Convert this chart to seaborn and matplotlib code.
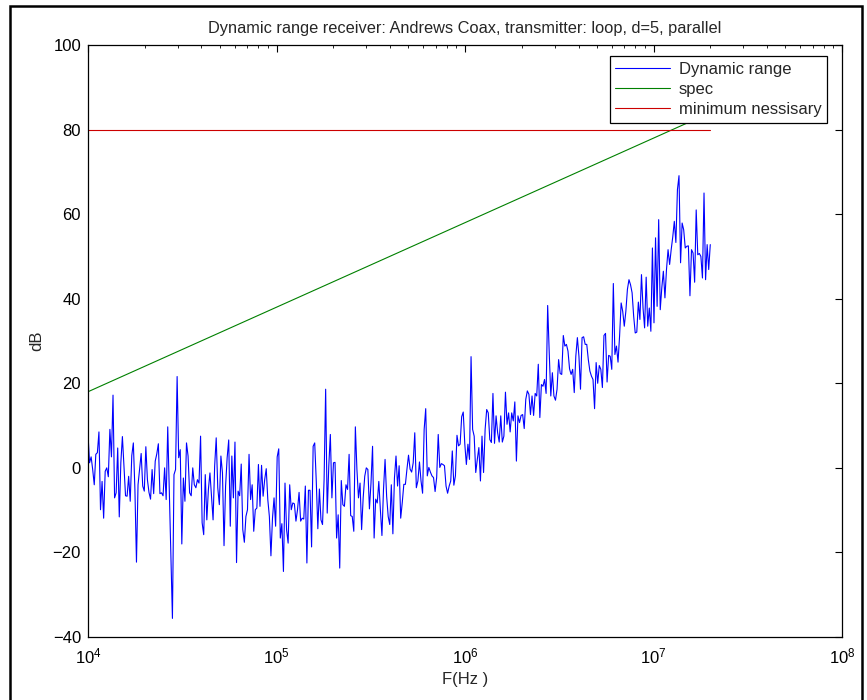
import numpy as np
import pandas as pd
import matplotlib
matplotlib.use("Agg")
import matplotlib.pyplot as plt
from matplotlib.patches import Rectangle
from matplotlib.ticker import LogLocator, NullFormatter, MultipleLocator
import seaborn as sns

# Measured dynamic range (dB), log-spaced sweep from 10 kHz to 20 MHz
f_start = 1e4
f_stop = 2e7
dynamic_range_db = [
    7.9, 1.2, 2.6, -0.4, -4, 3.2, 3.6, 8.5, -9.9, -3.2, -11.9, -0.8, 0, -2.1, 9.1, 2.6, 17.2,
    -7.1, -5.9, 4.7, -11.6, 1.2, 7.4, 0.4, -6.6, -6.7, -2, -7.9, 2.9, 5.9, -5.1, -22.3, -4,
    -0.4, 3.4, -4.3, -5.5, 5, -2.8, -5.8, -7.4, -0.4, -6.1, 1.6, 3.3, 5.7, -6.1, -5.9, -6.6,
    0, -7.5, 9.7,
    -5.4, -20.5, -35.6, -1.6, -0.4, 21.6, 2.4, 4.3, -18, -2.4, -7.9, 5.9, 2.8, -5.9, -6.6, 0,
    -4, -4.7, -2.8, -3.6, 7.5, -13, -15.8, -1.6, -12.3, -5.1, -1.2, -6.7, -12.3, 0.4, 7.1,
    -4.7, -8.7, 2.8, -1.2, -18.4, -4.3, 2.4, 6.6, -13.8, 2.8, -7.1, 6.1, -22.4, -5.5, -6.6,
    0.9, -14.6,
    -17.6, -11.5, -9.9, 3.2, -7.5, -4, -15, -9.9, -9.5, 0.8, -9.1, 0.6, -6.7, -2.8, -0.2,
    -7.5, -11.5, -20.8, -11.9, -7.1, -13.8, 2.6, 4.5, -16.6, -13.2, -24.5, -3.6, -14.6,
    -17.8, -4, -9.9, -8.3, -8.5, -12.6, -9.9, -5.8, -12.6, -11.9, -12.1, -4.3, -22.5, -5.3,
    -5.3, -18.7, 5.1, 5.9, -3.2, -14.4, -5, -12.3,
    -13.4, -2.8, 18.6, -10.7, 0.4, 7.9, -7.1, 1.2, 1.3, -16.6, -11.1, -23.7, -3, -8.7, -9.1,
    -4, -5.1, 3.2, -11.3, -11.5, -15, 9.7, -0.4, -7.1, -3.6, -14.6, -7.1, -2, 0, -0.4, -9.7,
    -3.6, 5.1, -16.6, -7.4, -8.3, -3.2, -9.9, -16, -5.1, 2, -6.7, -11.5, -13.4, -4, -15.6,
    -2.4, 2.8,
    -4.3, 0.5, -11.9, -8.2, -3.9, -3.9, -0.3, 3, -0.3, -1, 1.2, 8.3, -4.7, -3.1, 1.4, -3.1,
    -6, 9.1, 14, -1.9, 0.1, -1, -1.9, -2.3, -5.6, -2.3, 7.9, 0.1, 1, 0.8, 0.5, -4.3, -6,
    -4.3, -3.1, 4, -4.1, -1.9, 7.7, 5.2, 5.6, 12.1, 13.2, 5.6, 0.8, 5.6, 2, 26.3, 9.1, 7.5,
    -1.1, 2, 4.8, -3.1, 7.5, -1.1, 9.1, 13.8, 13, 6.7, 6, 17.6, 5.8, 12.3, 8.3, 6.1, 12.3,
    6.1, 7.5, 17.9, 10.3, 13, 8.5, 13, 11.1, 15.6, 1.6, 12.3, 10.7, 12.4, 12.6, 9.3, 16.2,
    18.2, 17.4, 12.6, 17, 12.4, 17.6, 17, 24.5, 11.9, 19.7, 19.3, 20.9, 17.6, 38.4, 27.2, 17,
    22.5, 17, 16, 18.6, 25.6, 22.3, 22.1, 31.3, 28.8, 29.2, 27.6, 23.4, 22.1, 23.3, 17.8,
    26.4, 30.8, 26.4, 18.6, 30.8, 31, 29.2, 29.2, 25.6, 22.9, 21.7, 20.9, 14, 24.9, 20, 24.2,
    23.3, 19, 31.3, 31.8, 20.3, 26.6, 26.4, 23.3, 43.6, 26.8, 28.8, 25, 31.2, 39, 37, 33.5,
    37, 42.2, 44.5,
    43.3, 41.4, 35.9, 31.9, 32.1, 39.2, 35.1, 45.7, 37.8, 33.1, 45.1, 33.5, 37.8, 32.3, 52,
    34.3, 54.4, 38.2, 58.7, 37.4, 42.6, 46.5, 40.2, 46.9, 51.6, 48.1, 51.6, 54.6, 58.3, 53.3,
    65.8, 69.1, 48.5, 57.9, 56.3, 52, 52.4, 52.5, 40.7, 51.6, 50.8, 43.9, 61.0, 50.4, 50.7,
    50, 44.9, 65, 44.5, 52.8, 46.9, 52.8,
]

# Specification line (20 dB/decade) and the minimum required level
spec_freq = [1e4, 2e7]
spec_db = [18, 84]
min_freq = [1e4, 2e7]
min_db = [80, 80]

freq = np.logspace(np.log10(f_start), np.log10(f_stop), len(dynamic_range_db))

df_dr = pd.DataFrame({"f": freq, "dB": dynamic_range_db})
df_spec = pd.DataFrame({"f": spec_freq, "dB": spec_db})
df_min = pd.DataFrame({"f": min_freq, "dB": min_db})

sns.set_theme(style="white")
plt.rcParams["font.family"] = ["Liberation Sans", "DejaVu Sans"]
plt.rcParams["mathtext.fontset"] = "custom"
plt.rcParams["mathtext.rm"] = "Liberation Sans"
plt.rcParams["mathtext.it"] = "Liberation Sans:italic"

fig = plt.figure(figsize=(8.67, 7.0), dpi=100)
ax = fig.add_axes([0.1015, 0.09, 0.8697, 0.8457])

sns.lineplot(data=df_dr, x="f", y="dB", ax=ax, color=(0, 0, 1), lw=0.8,
             sort=False, estimator=None, label="Dynamic range")
sns.lineplot(data=df_spec, x="f", y="dB", ax=ax, color=(0, 0.5, 0), lw=0.8,
             sort=False, estimator=None, label="spec")
sns.lineplot(data=df_min, x="f", y="dB", ax=ax, color=(0.8, 0, 0), lw=0.8,
             sort=False, estimator=None, label="minimum nessisary")

ax.set_xscale("log")
ax.set_xlim(1e4, 1e8)
ax.set_ylim(-40, 100)
ax.yaxis.set_major_locator(MultipleLocator(20))
ax.xaxis.set_major_locator(LogLocator(base=10, numticks=10))
ax.xaxis.set_minor_locator(LogLocator(base=10, subs=np.arange(2, 10), numticks=50))
ax.xaxis.set_minor_formatter(NullFormatter())

for side in ["left", "right", "top", "bottom"]:
    ax.spines[side].set_visible(True)
    ax.spines[side].set_color("black")
    ax.spines[side].set_linewidth(0.9)

ax.tick_params(axis="both", which="both", direction="in", top=True, right=True,
               colors="black")
ax.tick_params(axis="y", which="major", labelsize=12, pad=5)
ax.tick_params(axis="x", which="major", labelsize=12, pad=7)
ax.tick_params(axis="both", which="major", length=5, width=0.8)
ax.tick_params(axis="x", which="minor", length=2.5, width=0.6)

ax.set_title("Dynamic range receiver: Andrews Coax, transmitter: loop, d=5, parallel",
             fontsize=11.8, pad=9)
ax.set_xlabel("F(Hz )", fontsize=12, labelpad=4)
ax.set_ylabel("dB", fontsize=12, labelpad=6)

leg = ax.legend(loc="upper right", bbox_to_anchor=(0.9805, 0.9814), fontsize=12,
                frameon=True, fancybox=False, framealpha=1, edgecolor="black",
                handlelength=3.3, borderpad=0.35, labelspacing=0.3, handletextpad=0.5,
                borderaxespad=0)
leg.get_frame().set_linewidth(0.9)

# Outer frame around the figure
fig.patches.append(Rectangle((10 / 867, -0.05), 852 / 867, 1.05 - 6 / 700,
                             transform=fig.transFigure, fill=False,
                             edgecolor="black", lw=1.8, clip_on=False))

fig.savefig("out.png", dpi=100)
